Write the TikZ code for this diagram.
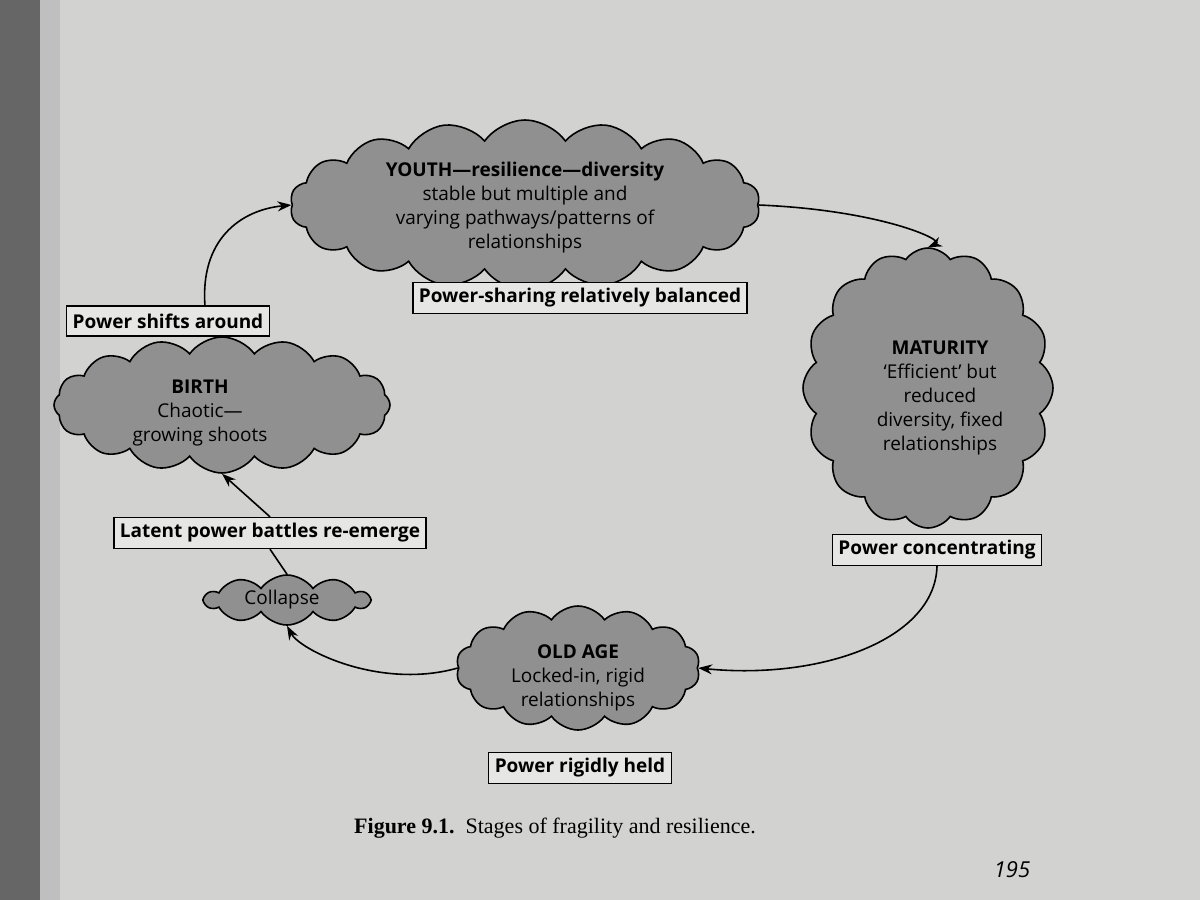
\documentclass[tikz,border=0pt]{standalone}
\usepackage{fontspec}
\setmainfont{Open Sans}
\newfontfamily\capfont{Liberation Serif}
\usetikzlibrary{shapes.symbols,arrows.meta}
\definecolor{page}{HTML}{D2D2D0}
\definecolor{cloudc}{HTML}{909090}
\definecolor{boxc}{HTML}{E6E6E4}
\tikzset{
 cl/.style={cloud, cloud puffs=#1, cloud puff arc=110, draw=black, line width=0.8pt, fill=cloudc, align=center, aspect=1, inner sep=0pt},
 bx/.style={draw=black, line width=0.7pt, fill=boxc, font=\fontsize{9.5}{12}\selectfont\bfseries, inner sep=3pt, minimum height=15pt},
 ar/.style={-{Stealth[length=7pt,width=5pt]}, line width=0.8pt},
 ln/.style={line width=0.8pt},
 tx/.style={font=\fontsize{9.5}{12}\selectfont, align=center}
}
\begin{document}
\begin{tikzpicture}[x=0.5pt,y=-0.5pt]
\useasboundingbox (0,0) rectangle (1200,900);
\fill[page] (0,0) rectangle (1200,900);
\fill[black!60] (0,0) rectangle (40,900);
\fill[black!25] (40,0) rectangle (60,900);
% clouds
\node[cl=18, minimum width=235pt, minimum height=85pt] (youth) at (525,205) {};
\node[tx] at (525,208) {\textbf{YOUTH---resilience---diversity}\\stable but multiple and\\varying pathways/patterns of\\relationships};
\node[cl=16, minimum width=125pt, minimum height=140pt] (mat) at (928,388) {};
\node[tx] at (940,398) {\textbf{MATURITY}\\‘Efficient’ but\\reduced\\diversity, fixed\\relationships};
\node[cl=14, minimum width=122pt, minimum height=62pt] (old) at (578,668) {};
\node[tx] at (578,678) {\textbf{OLD AGE}\\Locked-in, rigid\\relationships};
\node[cl=10, minimum width=82pt, minimum height=25pt] (col) at (287,600) {};
\node[tx] at (282,600) {Collapse};
\node[cl=16, minimum width=168pt, minimum height=68pt] (birth) at (222,405) {};
\node[tx] at (200,413) {\textbf{BIRTH}\\Chaotic---\\growing shoots};
% boxes
\node[bx] (b1) at (580,298) {Power-sharing relatively balanced};
\node[bx] (b2) at (937,550) {Power concentrating};
\node[bx] (b3) at (580,768) {Power rigidly held};
\node[bx] (b4) at (270,533) {Latent power battles re-emerge};
\node[bx] (b5) at (168,321) {Power shifts around};
% connectors
\coordinate (b5t) at (205,306);
\draw[ar] (b5t) .. controls (200,240) and (240,210) .. (youth.west);
\draw[ar] (youth.east) .. controls (880,210) and (945,240) .. (mat.north);
\draw[ar] (b2.south) .. controls (935,640) and (820,680) .. (old.east);
\draw[ar] (old.west) .. controls (380,690) and (300,650) .. (col.south);
\draw[ln] (col.north) -- (b4.south);
\draw[ar] (b4.north) -- (birth.south);
\draw[ln] (birth.north) -- (b5.south -| birth.north);
% caption
\node[font=\fontsize{11}{13}\selectfont\capfont] (cap) at (555,828) {\textbf{Figure 9.1.}\ \ Stages of fragility and resilience.};
\node[font=\fontsize{11}{13}\selectfont\itshape] (pg) at (1012,870) {195};
\end{tikzpicture}
\end{document}
